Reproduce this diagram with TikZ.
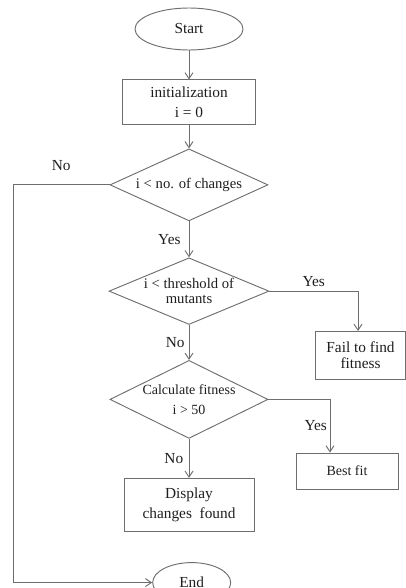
\documentclass[tikz,border=0pt]{standalone}
\usepackage{fontspec}
\setmainfont{Liberation Serif}
\usetikzlibrary{positioning,shapes.geometric,arrows.meta}
\usepackage{xcolor}

\definecolor{linegray}{HTML}{6E6E6E}
\definecolor{inkgray}{HTML}{1E1E1E}

\tikzset{
  flowline/.style={draw=linegray, line width=0.7pt},
  arrowline/.style={flowline, -{Straight Barb[length=4.5pt,width=6pt]}},
  terminal/.style={ellipse, flowline, inner sep=0pt, text=inkgray, font=\fontsize{11.5}{14}\selectfont},
  process/.style={rectangle, flowline, inner sep=0pt, align=center, text=inkgray, font=\fontsize{11.5}{15}\selectfont},
  decision/.style={diamond, flowline, inner sep=0pt, align=center, text=inkgray, font=\fontsize{11}{11}\selectfont},
  branchlabel/.style={inner sep=0pt, text=inkgray, font=\fontsize{11.5}{14}\selectfont}
}

\begin{document}
\begin{tikzpicture}[line width=0.7pt]
        \useasboundingbox (0,0) rectangle (304.5pt,-441pt);
        \node[terminal, minimum width=81pt, minimum height=31.5pt] (start) at (141.75pt,-21.75pt) {Start};
        \node[process, minimum width=99.75pt, minimum height=33.75pt, below=21.75pt of start] (init) {initialization\\i = 0};
        \node[decision, minimum width=118.5pt, minimum height=54pt, shape aspect=2.2, below=17.25pt of init] (cond) {i < no. of changes};
        \node[decision, minimum width=120pt, minimum height=50pt, shape aspect=2.4, inner ysep=-3pt, below=27pt of cond] (mutant) {i < threshold of\\mutants};
        \node[decision, minimum width=118.5pt, minimum height=58.5pt, shape aspect=2.03, inner ysep=-3pt, font=\fontsize{10.5}{15}\selectfont, below=26.25pt of mutant] (fitness) {Calculate fitness\\i > 50};
        \node[process, minimum width=97.5pt, minimum height=40pt, below=29.25pt of fitness] (display) {Display\\changes~ found};
        \node[terminal, minimum width=58.5pt, minimum height=30pt, below=22.5pt of display, xshift=2pt] (end) {End};
        \node[process, minimum width=67pt, minimum height=36pt, font=\fontsize{11.5}{12}\selectfont] (fail) at (270.4pt,-266.6pt) {Fail to find\\fitness};
        \node[process, minimum width=76.5pt, minimum height=27pt, font=\fontsize{10.5}{12}\selectfont] (best) at (260.25pt,-353.25pt) {Best fit};
        \coordinate (rail) at (9.75pt,-200pt);
        \draw[arrowline] (start) -- (init);
        \draw[arrowline] (init) -- (cond);
        \draw[arrowline] (cond) -- node[branchlabel, left=6pt] (yes1) {Yes} (mutant);
        \draw[arrowline] (mutant.east) -| node[branchlabel, above=3pt, pos=0.25] (yes2) {Yes} ([xshift=-1.9pt]fail.north);
        \draw[arrowline] (mutant) -- node[branchlabel, left=3pt] (no2) {No} (fitness);
        \draw[arrowline] (fitness.east) -| node[branchlabel, left=2pt, pos=0.75] (yes3) {Yes} ([xshift=-12.75pt]best.north);
        \draw[arrowline] (fitness) -- node[branchlabel, left=4pt] (no3) {No} (display);
        \draw[arrowline] (cond.west) -- node[branchlabel, above=10pt] (no1) {No} (cond.west -| rail) |- (end.west);
    \end{tikzpicture}
\end{document}
